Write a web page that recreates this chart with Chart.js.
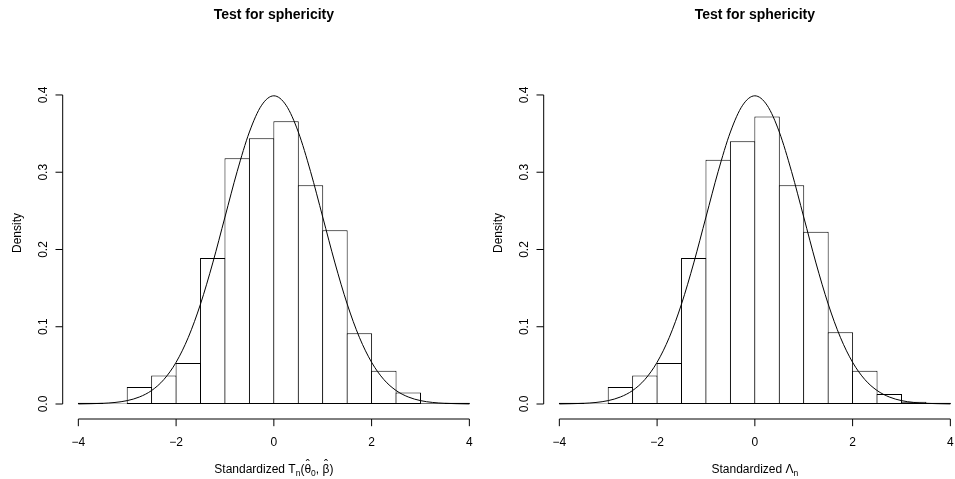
<!DOCTYPE html>
<html>
<head>
<meta charset="utf-8">
<script src="https://cdn.jsdelivr.net/npm/chart.js@4.4.1/dist/chart.umd.min.js"></script>
<style>
html, body { margin: 0; padding: 0; background: #fff; overflow: hidden; }
#wrap { position: relative; width: 955px; height: 479px; overflow: hidden; }
canvas { position: absolute; top: 0; }
</style>
</head>
<body>
<div id="wrap">
  <canvas id="leftChart" width="485" height="479" style="left:0px"></canvas>
  <canvas id="rightChart" width="485" height="479" style="left:481px"></canvas>
</div>
<script>
// histogram bins (midpoints, width 0.5)
const binMids = [-3.75, -3.25, -2.75, -2.25, -1.75, -1.25, -0.75, -0.25, 0.25, 0.75, 1.25, 1.75, 2.25, 2.75, 3.25, 3.75];
const densityT = [0.0015, 0.0005, 0.022, 0.037, 0.053, 0.189, 0.318, 0.344, 0.366, 0.283, 0.225, 0.0915, 0.043, 0.015, 0.001, 0.0015];
const densityLambda = [0.0015, 0.0005, 0.022, 0.037, 0.053, 0.189, 0.316, 0.340, 0.372, 0.283, 0.223, 0.093, 0.043, 0.013, 0.003, 0.0015];

// reference density curve
const curveX = [-4, -3.75, -3.5, -3.25, -3, -2.75, -2.5, -2.25, -2, -1.75, -1.5, -1.25, -1, -0.75, -0.5, -0.25, 0,
                0.25, 0.5, 0.75, 1, 1.25, 1.5, 1.75, 2, 2.25, 2.5, 2.75, 3, 3.25, 3.5, 3.75, 4];
const curveY = [0.0001, 0.0004, 0.0009, 0.002, 0.0044, 0.0091, 0.0175, 0.0317, 0.054, 0.0863, 0.1295, 0.1826, 0.242, 0.3011, 0.3521, 0.3867, 0.3989,
                0.3867, 0.3521, 0.3011, 0.242, 0.1826, 0.1295, 0.0863, 0.054, 0.0317, 0.0175, 0.0091, 0.0044, 0.002, 0.0009, 0.0004, 0.0001];

const xTicks = [-4, -2, 0, 2, 4];
const yTicks = [0, 0.1, 0.2, 0.3, 0.4];
const yTickLabels = ['0.0', '0.1', '0.2', '0.3', '0.4'];

const chartTitle = 'Test for sphericity';
const yTitle = 'Density';
const xTitleT = [
    { t: 'Standardized T' }, { t: 'n', sub: true }, { t: '(' }, { t: '\u03b8', hat: true },
    { t: '0', sub: true }, { t: ', ' }, { t: '\u03b2', hat: true }, { t: ')' }
];
const xTitleLambda = [{ t: 'Standardized \u039b' }, { t: 'n', sub: true }];

const FONT = '"Liberation Sans", Arial, Helvetica, sans-serif';
const fmt = v => v < 0 ? '\u2212' + Math.abs(v) : String(v);

function drawRich(ctx, parts, cx, y) {
    let total = 0;
    parts.forEach(p => {
        ctx.font = (p.sub ? '8.5px ' : '12px ') + FONT;
        p.w = ctx.measureText(p.t).width;
        total += p.w;
    });
    let x = cx - total / 2;
    ctx.textAlign = 'left';
    parts.forEach(p => {
        ctx.font = (p.sub ? '8.5px ' : '12px ') + FONT;
        ctx.fillText(p.t, x, y + (p.sub ? 3 : 0));
        if (p.hat) {
            ctx.save();
            ctx.font = '12px ' + FONT;
            ctx.textAlign = 'center';
            ctx.fillText('\u02c6', x + p.w / 2, y - 3.5);
            ctx.restore();
        }
        x += p.w;
    });
}

// R-style axes, title and labels drawn from the chart's own scales
const rAxes = {
    id: 'rAxes',
    afterDraw(chart, args, opts) {
        const { ctx, chartArea } = chart;
        const xs = chart.scales.x, ys = chart.scales.y;
        ctx.save();
        ctx.strokeStyle = '#000';
        ctx.fillStyle = '#000';
        ctx.lineWidth = 1;

        const by = chartArea.bottom;
        ctx.beginPath();
        ctx.moveTo(xs.getPixelForValue(xTicks[0]), by);
        ctx.lineTo(xs.getPixelForValue(xTicks[xTicks.length - 1]), by);
        xTicks.forEach(v => {
            const px = xs.getPixelForValue(v);
            ctx.moveTo(px, by);
            ctx.lineTo(px, by + 7.2);
        });
        const lx = chartArea.left;
        ctx.moveTo(lx, ys.getPixelForValue(yTicks[0]));
        ctx.lineTo(lx, ys.getPixelForValue(yTicks[yTicks.length - 1]));
        yTicks.forEach(v => {
            const py = ys.getPixelForValue(v);
            ctx.moveTo(lx, py);
            ctx.lineTo(lx - 7.2, py);
        });
        ctx.stroke();

        ctx.font = '12px ' + FONT;
        ctx.textAlign = 'center';
        ctx.textBaseline = 'alphabetic';
        xTicks.forEach(v => ctx.fillText(fmt(v), xs.getPixelForValue(v), 446));
        yTicks.forEach((v, i) => {
            ctx.save();
            ctx.translate(46.5, ys.getPixelForValue(v));
            ctx.rotate(-Math.PI / 2);
            ctx.fillText(yTickLabels[i], 0, 0);
            ctx.restore();
        });
        ctx.save();
        ctx.translate(20.5, 233);
        ctx.rotate(-Math.PI / 2);
        ctx.fillText(yTitle, 0, 0);
        ctx.restore();

        const cx = (xs.getPixelForValue(xTicks[0]) + xs.getPixelForValue(xTicks[xTicks.length - 1])) / 2;
        ctx.font = 'bold 14px ' + FONT;
        ctx.fillText(chartTitle, cx, 18.5);
        drawRich(ctx, opts.xTitle, cx, 472.5);
        ctx.restore();
    }
};

function makeChart(id, densities, xTitle) {
    return new Chart(document.getElementById(id), {
        type: 'bar',
        data: {
            datasets: [
                {
                    type: 'line',
                    data: curveX.map((x, i) => ({ x: x, y: curveY[i] })),
                    borderColor: '#000',
                    borderWidth: 1,
                    pointRadius: 0,
                    cubicInterpolationMode: 'monotone',
                    fill: false,
                    order: 0
                },
                {
                    type: 'bar',
                    data: binMids.map((x, i) => ({ x: x, y: densities[i] })),
                    backgroundColor: '#fff',
                    borderColor: '#000',
                    borderSkipped: false,
                    borderWidth: 1,
                    // a little wider than the bin so neighbouring outlines share one pixel
                    barPercentage: 1.041,
                    categoryPercentage: 1,
                    order: 1
                }
            ]
        },
        options: {
            responsive: false,
            animation: false,
            devicePixelRatio: 1,
            layout: { padding: { left: 62.7, right: 0, top: 82.6, bottom: 60 } },
            scales: {
                x: { type: 'linear', min: -4.32, max: 4.32, offset: false, display: false },
                y: { type: 'linear', min: -0.0194, max: 0.416, display: false }
            },
            plugins: {
                legend: { display: false },
                tooltip: { enabled: false },
                title: { display: false },
                rAxes: { xTitle: xTitle }
            }
        },
        plugins: [rAxes]
    });
}

makeChart('leftChart', densityT, xTitleT);
makeChart('rightChart', densityLambda, xTitleLambda);
</script>
</body>
</html>
